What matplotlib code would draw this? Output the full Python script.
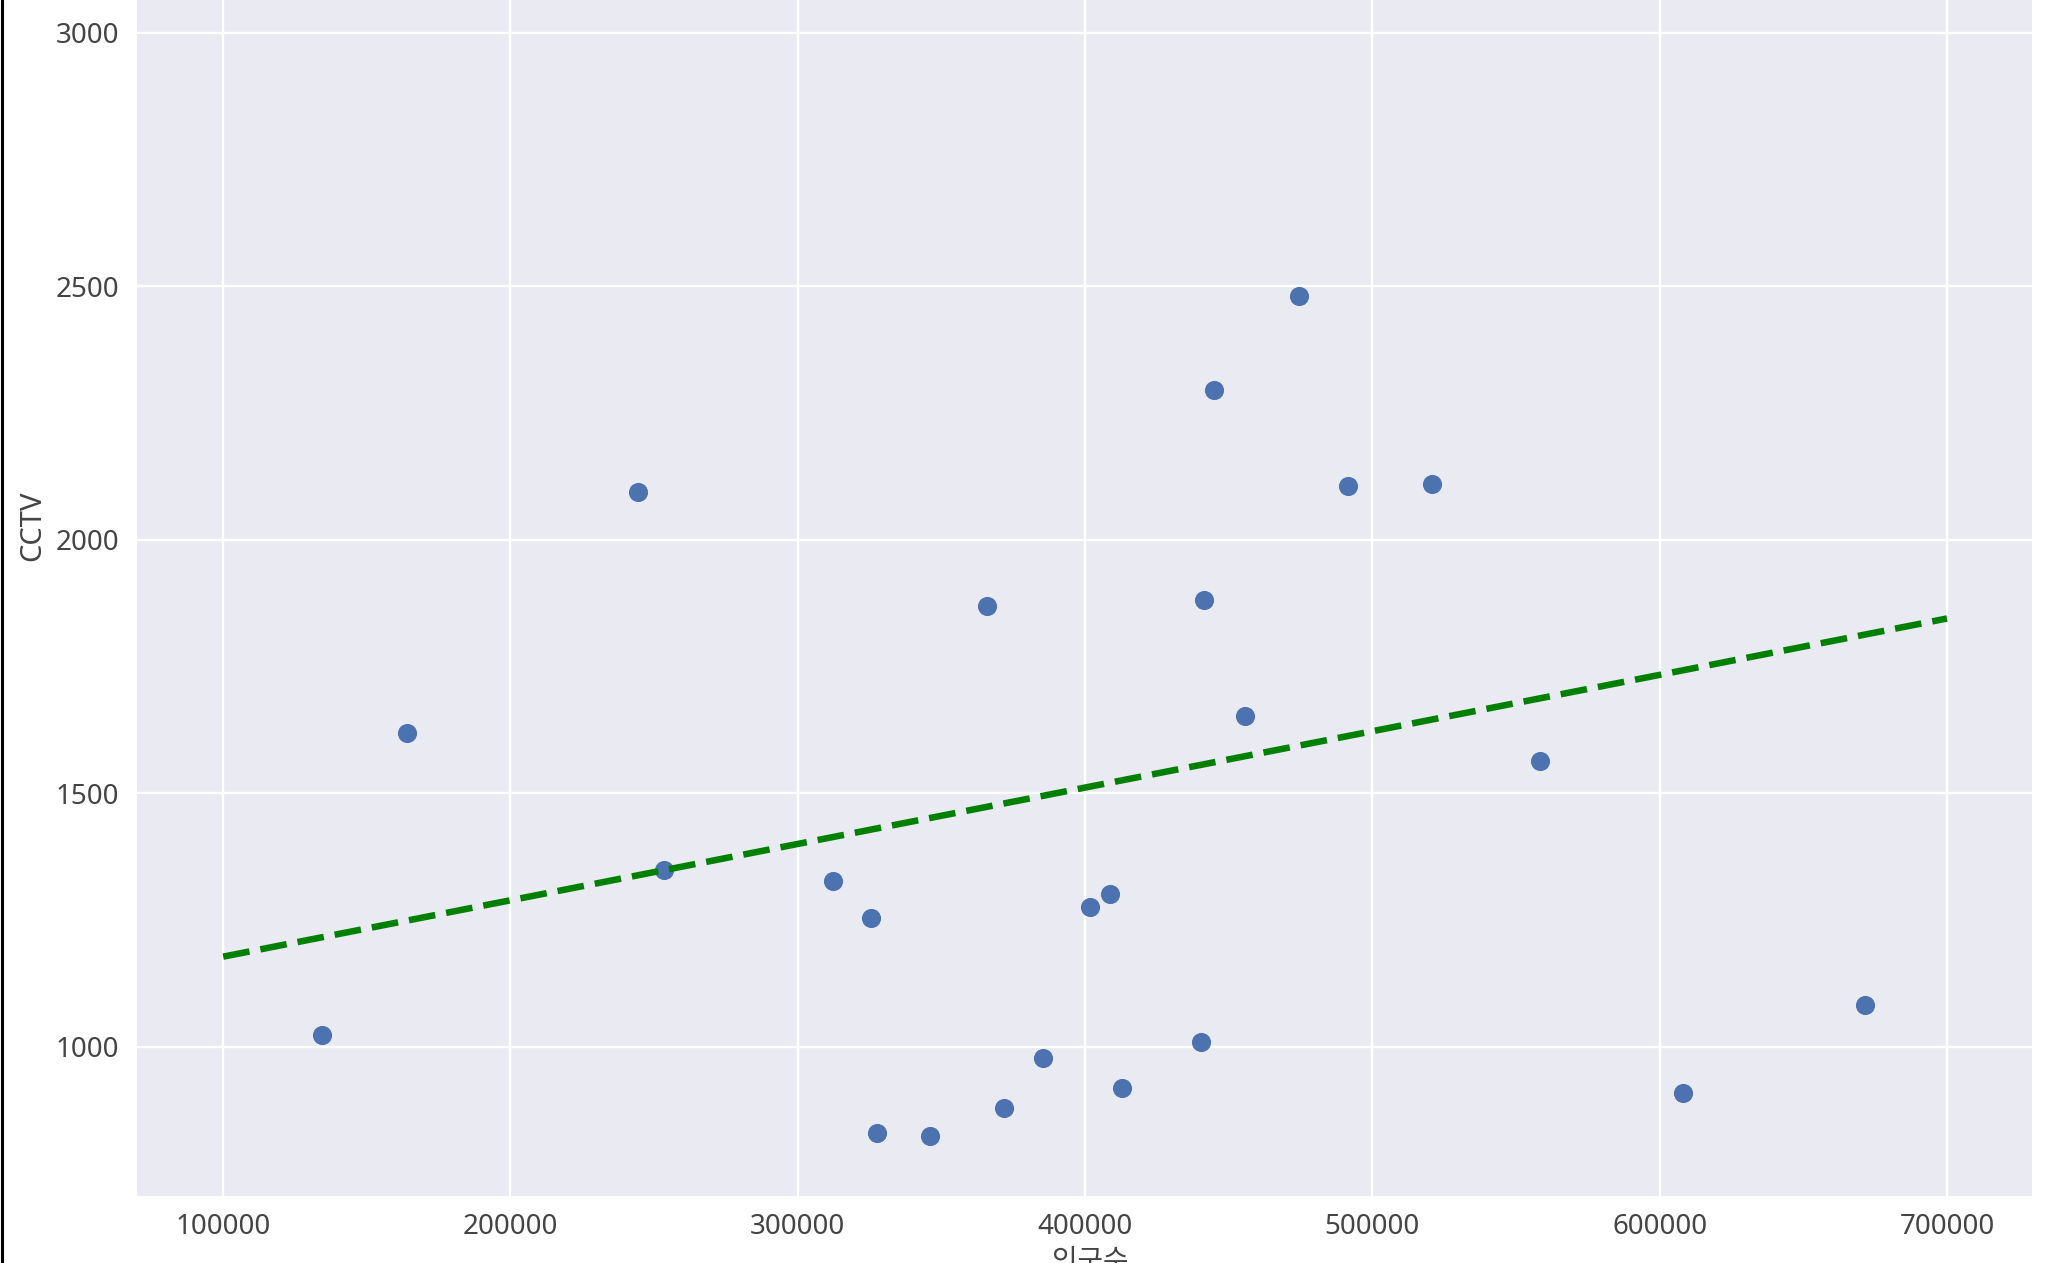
import numpy as np
import matplotlib
matplotlib.use("Agg")
import matplotlib.pyplot as plt
from matplotlib.lines import Line2D

plt.style.use("seaborn-v0_8-darkgrid")
plt.rcParams['font.family'] = ['Noto Sans', 'Noto Sans CJK KR', 'DejaVu Sans']
plt.rcParams['axes.unicode_minus'] = False

# 인구수 vs CCTV
population = [134500, 164100, 244500, 253600, 312300, 325500, 327700, 345900,
              365900, 371800, 385500, 401800, 408600, 412700, 440500, 441400,
              445000, 455500, 474500, 491400, 520900, 558200, 608200, 671400]
cctv = [1023, 1619, 2095, 1348, 1327, 1255, 830, 825,
        1869, 879, 979, 1276, 1302, 918, 1010, 1881,
        2296, 1652, 2482, 2106, 2111, 1564, 910, 1082]

# trend line end points
fit_x = [100000, 700000]
fit_y = [1178, 1845]

fig = plt.figure(figsize=(20.48, 12.63), dpi=100)
ax = fig.add_axes([0.0669, 0.0531, 0.9253, 0.9469])

ax.scatter(population, cctv, s=190, color='#4C72B0', linewidths=0, zorder=2)
ax.plot(fit_x, fit_y, color='g', lw=4.7, ls='--', dashes=(4.1, 1.7), zorder=3)

ax.set_xlim(70000, 729600)
ax.set_ylim(706, 3065)
ax.set_xticks([100000, 200000, 300000, 400000, 500000, 600000, 700000])
ax.set_yticks([1000, 1500, 2000, 2500, 3000])
ax.grid(True, color='white', lw=1.7)
ax.tick_params(axis='both', labelsize=20, colors='#444444')
ax.tick_params(axis='y', pad=13)
ax.tick_params(axis='x', pad=12)

ax.set_xlabel('인구수', fontsize=20, color='#444444')
ax.set_ylabel('CCTV', fontsize=21, color='#444444')
ax.xaxis.set_label_coords(0.503, -0.0435)
ax.yaxis.set_label_coords(-0.0472, 0.56)

# dark edge at the left of the screenshot
fig.add_artist(Line2D([0.0008, 0.0008], [0, 1], color='black', lw=2.2,
                      transform=fig.transFigure))

fig.savefig('out.png', dpi=100)
